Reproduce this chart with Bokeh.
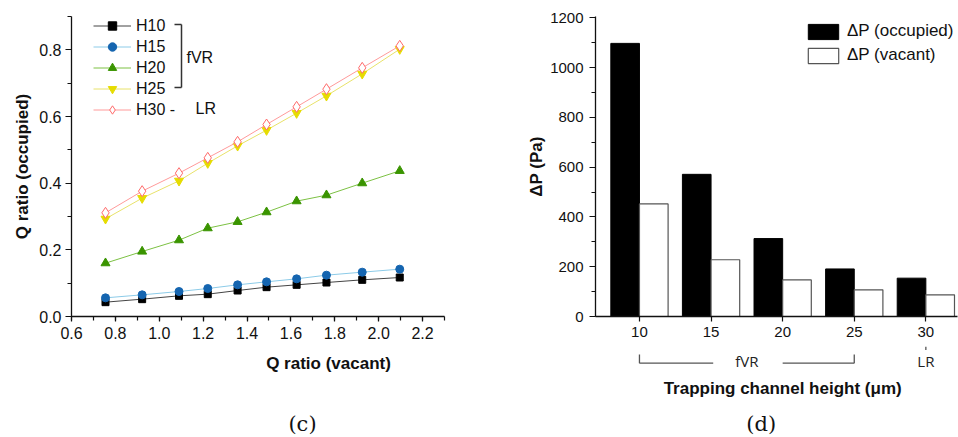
import numpy as np
from bokeh.plotting import figure
from bokeh.layouts import row, column
from bokeh.models import (Range1d, FixedTicker, NumeralTickFormatter, Legend, LegendItem,
                          Label, Arrow)
from bokeh.embed import file_html
from bokeh.resources import INLINE

# ---------------- data (c) ----------------
q_vacant = [0.755, 0.922, 1.09, 1.221, 1.357, 1.489, 1.626, 1.762, 1.925, 2.096]
h10 = [0.043, 0.052, 0.062, 0.067, 0.078, 0.088, 0.095, 0.102, 0.110, 0.117]
h15 = [0.056, 0.065, 0.075, 0.084, 0.095, 0.104, 0.113, 0.124, 0.133, 0.142]
h20 = [0.160, 0.195, 0.229, 0.265, 0.284, 0.313, 0.346, 0.364, 0.400, 0.437]
h25 = [0.293, 0.355, 0.407, 0.460, 0.512, 0.559, 0.610, 0.662, 0.728, 0.802]
h30 = [0.311, 0.376, 0.430, 0.476, 0.524, 0.576, 0.629, 0.682, 0.746, 0.812]
series_names = ["H10", "H15", "H20", "H25", "H30 -"]
c_xticks = [0.6, 0.8, 1.0, 1.2, 1.4, 1.6, 1.8, 2.0, 2.2]
c_yticks = [0.0, 0.2, 0.4, 0.6, 0.8]

# ---------------- data (d) ----------------
heights = [10, 15, 20, 25, 30]
dp_occupied = [1097, 571, 313, 191, 154]
dp_vacant = [452, 228, 147, 107, 87]
d_yticks = [0, 200, 400, 600, 800, 1000, 1200]

FONT = "Liberation Sans"
AX = "#111111"
TXT = "#111111"


def style_axes(p, tick_size, label_size):
    p.outline_line_color = None
    p.xgrid.visible = False
    p.ygrid.visible = False
    for ax in (p.xaxis[0], p.yaxis[0]):
        ax.axis_line_color = AX
        ax.axis_line_width = 1.3
        ax.major_tick_line_color = AX
        ax.minor_tick_line_color = AX
        ax.major_tick_line_width = 1.2
        ax.minor_tick_line_width = 1.2
        ax.major_tick_in = 0
        ax.major_tick_out = 6
        ax.minor_tick_in = 0
        ax.minor_tick_out = 4
        ax.major_label_text_font = FONT
        ax.major_label_text_font_size = tick_size
        ax.major_label_text_color = TXT
        ax.axis_label_text_font = FONT
        ax.axis_label_text_font_style = "bold"
        ax.axis_label_text_font_size = label_size
        ax.axis_label_text_color = TXT


def blank(p):
    p.outline_line_color = None
    p.xgrid.visible = False
    p.ygrid.visible = False


# ================= left chart (c) =================
p1 = figure(frame_width=373, frame_height=300, min_border_left=71, min_border_right=36,
            min_border_top=16, min_border_bottom=30, output_backend="svg",
            toolbar_location=None, x_range=Range1d(0.6, 2.3), y_range=Range1d(0, 0.9))
style_axes(p1, "16px", "17px")
p1.yaxis.axis_label = "Q ratio (occupied)"
p1.xaxis.ticker = FixedTicker(ticks=c_xticks,
                              minor_ticks=[round(0.6 + 0.1 * i, 2) for i in range(18)])
p1.yaxis.ticker = FixedTicker(ticks=c_yticks, minor_ticks=[round(0.1 * i, 2) for i in range(10)])
p1.xaxis.formatter = NumeralTickFormatter(format="0.0")
p1.yaxis.formatter = NumeralTickFormatter(format="0.0")
p1.xaxis.major_tick_out = 5
p1.xaxis.major_label_standoff = 5
p1.yaxis.major_label_standoff = 4
p1.yaxis.axis_label_standoff = 4

styles = [
    (h10, "#444444", "square", "#000000", "#000000", 7),
    (h15, "#8ccbe8", "circle", "#1565b0", "#1565b0", 8),
    (h20, "#7cc143", "triangle", "#3a9400", "#3a9400", 9),
    (h25, "#e8e26a", "inverted_triangle", "#e6dc00", "#e6dc00", 9),
    (h30, "#ff9a9a", "diamond", "white", "#ff6a6a", 11),
]
items = []
for (ys, lc, mk, fc, mlc, sz), name in zip(styles, series_names):
    ln = p1.line(q_vacant, ys, line_color=lc, line_width=1)
    sc = p1.scatter(q_vacant, ys, marker=mk, size=sz, fill_color=fc,
                    line_color=mlc, line_width=1)
    items.append(LegendItem(label=name, renderers=[ln, sc]))

leg1 = Legend(items=items, location=(22, 196), glyph_width=38, glyph_height=21,
              label_height=21, spacing=0, padding=0, margin=0, label_standoff=5,
              border_line_color=None, background_fill_alpha=0,
              label_text_font=FONT, label_text_font_size="16px", label_text_color=TXT)
p1.add_layout(leg1, "center")

BR = "#333333"
for xs0, ys0, xs1, ys1 in [(110, 292, 110, 229), (103, 292, 110, 292), (103, 229, 110, 229)]:
    p1.add_layout(Arrow(end=None, x_start=xs0, y_start=ys0, x_end=xs1, y_end=ys1,
                        start_units="screen", end_units="screen",
                        line_color=BR, line_width=1.5))
p1.add_layout(Label(x=115, y=259, x_units="screen", y_units="screen", text="fVR",
                    text_font=FONT, text_font_size="16px", text_baseline="middle",
                    text_color=TXT))
p1.add_layout(Label(x=124, y=208, x_units="screen", y_units="screen", text="LR",
                    text_font=FONT, text_font_size="16px", text_baseline="middle",
                    text_color=TXT))

# strip below (c): x-axis title and panel letter
p1b = figure(frame_width=480, frame_height=91, min_border=0, output_backend="svg",
             toolbar_location=None, x_axis_location=None, y_axis_location=None,
             x_range=Range1d(0, 480), y_range=Range1d(91, 0))
blank(p1b)
p1b.add_layout(Label(x=257, y=17, text="Q ratio (vacant)", text_font=FONT,
                     text_font_size="17px", text_font_style="bold", text_align="center",
                     text_baseline="middle", text_color=TXT))
p1b.add_layout(Label(x=231, y=77, text="(c)", text_font="DejaVu Serif",
                     text_font_size="21px", text_align="center", text_baseline="middle",
                     text_color=TXT))

# ================= right chart (d) =================
xr = Range1d(6.93, 32.21)
p2 = figure(frame_width=362, frame_height=300, min_border_left=115, min_border_right=1,
            min_border_top=16, min_border_bottom=30, output_backend="svg",
            toolbar_location=None, x_range=xr, y_range=Range1d(0, 1205))
style_axes(p2, "15px", "17px")
p2.yaxis.axis_label = "\u0394P (Pa)"
p2.xaxis.ticker = FixedTicker(ticks=heights, minor_ticks=[])
p2.yaxis.ticker = FixedTicker(ticks=d_yticks, minor_ticks=list(range(0, 1300, 100)))
p2.xaxis.major_tick_out = 5
p2.xaxis.major_label_standoff = 5
p2.yaxis.major_label_standoff = 6
p2.yaxis.axis_label_standoff = 1

hx = np.array(heights, dtype=float)
b_occ = p2.vbar(x=hx - 1, top=dp_occupied, width=2, bottom=0, fill_color="black",
                line_color="black", line_width=1)
b_vac = p2.vbar(x=hx + 1, top=dp_vacant, width=2, bottom=0, fill_color="white",
                line_color="#555555", line_width=1.2)
leg2 = Legend(items=[LegendItem(label="\u0394P (occupied)", renderers=[b_occ]),
                     LegendItem(label="\u0394P (vacant)", renderers=[b_vac])],
              location=(209, 251), glyph_width=38, glyph_height=19, label_height=19,
              spacing=4, padding=0, margin=0, label_standoff=5,
              border_line_color=None, background_fill_alpha=0,
              label_text_font=FONT, label_text_font_size="17px", label_text_color=TXT)
p2.add_layout(leg2, "center")

# strip below (d): group brackets, x-axis title, panel letter
p2b = figure(frame_width=362, frame_height=91, min_border_left=115, min_border_right=1,
             min_border_top=0, min_border_bottom=0, output_backend="svg",
             toolbar_location=None, x_axis_location=None, y_axis_location=None,
             x_range=xr, y_range=Range1d(91, 0))
blank(p2b)
GR = "#555555"
h0, h3, h4 = heights[0], heights[3], heights[4]
mid = (h0 + h3) / 2.0
y_top, y_bot = 8, 16.7
p2b.segment(x0=[h0, h0, mid + 2.5, h3, h4], y0=[y_top, y_bot, y_bot, y_bot, 0],
            x1=[h0, mid - 2.35, h3, h3, h4], y1=[y_bot, y_bot, y_bot, y_top, 3.5],
            line_color=GR, line_width=1.3)
p2b.add_layout(Label(x=mid, y=14, text="fVR", text_font="Open Sans", text_font_size="15px",
                     text_align="center", text_baseline="middle", text_color="#222222"))
p2b.add_layout(Label(x=h4, y=14, text="LR", text_font="Open Sans", text_font_size="15px",
                     text_align="center", text_baseline="middle", text_color="#222222"))
p2b.add_layout(Label(x=20, y=42, text="Trapping channel height (\u03bcm)", text_font=FONT,
                     text_font_size="17px", text_font_style="bold", text_align="center",
                     text_baseline="middle", text_color=TXT))
p2b.add_layout(Label(x=18.5, y=77, text="(d)", text_font="DejaVu Serif",
                     text_font_size="21px", text_align="center", text_baseline="middle",
                     text_color=TXT))

layout = row(column(p1, p1b), column(p2, p2b))
open("out.html", "w").write(file_html(layout, INLINE))
